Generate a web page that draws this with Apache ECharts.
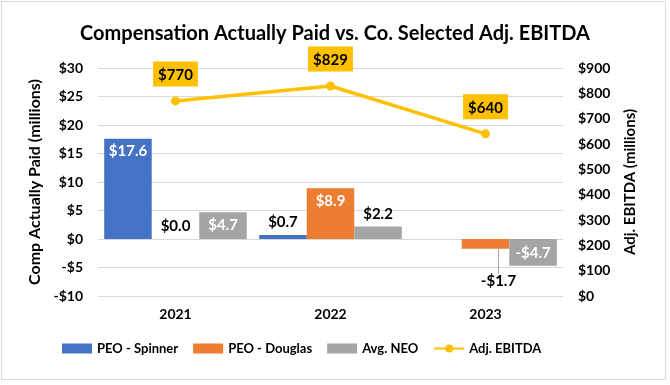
<!DOCTYPE html>
<html><head><meta charset="utf-8">
<script src="https://cdn.jsdelivr.net/npm/echarts@6/dist/echarts.min.js"></script>
<style>html,body{margin:0;padding:0;background:#fff}#c{width:670px;height:385px}</style>
</head><body><div id="c"></div>
<script>
var categories = ['2021', '2022', '2023'];
var peoSpinner = [17.6, 0.7, null];
var peoDouglas = [0.0, 8.9, -1.7];
var avgNeo = [4.7, 2.2, -4.7];
var adjEbitda = [770, 829, 640];
var leftTicks = {min: -10, max: 30, interval: 5};
var rightTicks = {min: 0, max: 900, interval: 100};

var FONT = 'Lato';
function money(v) {
  var s = Math.abs(v).toFixed(1);
  return (v < 0 ? '-$' : '$') + s;
}
function barData(arr, insideIdx, belowIdx) {
  return arr.map(function (v, i) {
    if (v === null) return {value: '-', label: {show: false}};
    var item = {value: v};
    if (insideIdx.indexOf(i) >= 0) {
      item.label = {position: v < 0 ? 'insideBottom' : 'insideTop', color: '#fff'};
    } else if (belowIdx.indexOf(i) >= 0) {
      item.label = {position: 'bottom', color: '#000'};
      item.labelLine = {show: true, lineStyle: {color: '#A6A6A6', width: 1}};
    } else {
      item.label = {position: 'top', color: '#000'};
    }
    return item;
  });
}
var barLabel = {show: true, fontFamily: FONT, fontWeight: 'bold', fontSize: 15,
  formatter: function (p) { return money(p.value); }};

var chart = echarts.init(document.getElementById('c'));
chart.setOption({
  animation: false,
  textStyle: {fontFamily: FONT},
  graphic: [{type: 'rect', shape: {x: 1.5, y: 1.5, width: 664, height: 378},
    style: {fill: 'none', stroke: '#D9D9D9', lineWidth: 1}, silent: true}],
  title: {text: 'Compensation Actually Paid vs. Co. Selected Adj. EBITDA', left: 'center', top: 19,
    textStyle: {fontFamily: FONT, fontWeight: 'bold', fontSize: 20, color: '#000'}},
  legend: {bottom: 25, left: 57, itemGap: 15, itemWidth: 30, itemHeight: 10,
    textStyle: {fontFamily: FONT, fontWeight: 'bold', fontSize: 13, color: '#000'},
    data: [{name: 'PEO - Spinner', icon: 'rect'}, {name: 'PEO - Douglas', icon: 'rect'},
      {name: 'Avg. NEO', icon: 'rect'}, {name: 'Adj. EBITDA'}]},
  grid: {left: 98, right: 107, top: 68, bottom: 89},
  xAxis: {type: 'category', data: categories,
    axisLine: {show: false}, axisTick: {show: false},
    axisLabel: {fontFamily: FONT, fontWeight: 'bold', fontSize: 14, color: '#000', margin: 11}},
  yAxis: [{type: 'value', min: leftTicks.min, max: leftTicks.max, interval: leftTicks.interval,
    name: 'Comp Actually Paid (millions)', nameLocation: 'middle', nameGap: 52, nameRotate: 90,
    nameTextStyle: {fontFamily: FONT, fontWeight: 'bold', fontSize: 16, color: '#000'},
    axisLabel: {fontFamily: FONT, fontWeight: 'bold', fontSize: 14, color: '#000', margin: 15,
      formatter: function (v) { return (v < 0 ? '-$' : '$') + Math.abs(v); }},
    splitLine: {lineStyle: {color: '#D9D9D9'}}, axisLine: {show: false}, axisTick: {show: false}},
    {type: 'value', min: rightTicks.min, max: rightTicks.max, interval: rightTicks.interval,
    name: 'Adj. EBITDA (millions)', nameLocation: 'middle', nameGap: 60, nameRotate: 90,
    nameTextStyle: {fontFamily: FONT, fontWeight: 'bold', fontSize: 15, color: '#000'},
    axisLabel: {fontFamily: FONT, fontWeight: 'bold', fontSize: 14, color: '#000', margin: 15,
      formatter: function (v) { return '$' + v; }},
    splitLine: {show: false}, axisLine: {show: false}, axisTick: {show: false}}],
  series: [
    {name: 'PEO - Spinner', type: 'bar', barGap: '0%', barCategoryGap: '8%',
      itemStyle: {color: '#4472C4'}, label: barLabel, data: barData(peoSpinner, [0], [])},
    {name: 'PEO - Douglas', type: 'bar', barGap: '0%', barCategoryGap: '8%',
      itemStyle: {color: '#ED7D31'}, label: barLabel, data: barData(peoDouglas, [1], [2]),
      labelLayout: function (p) { return p.dataIndex === 2 ? {dx: 13, dy: 20} : {}; }},
    {name: 'Avg. NEO', type: 'bar', barGap: '0%', barCategoryGap: '8%',
      itemStyle: {color: '#A5A5A5'}, label: barLabel, data: barData(avgNeo, [0, 2], [])},
    {name: 'Adj. EBITDA', type: 'line', yAxisIndex: 1, data: adjEbitda,
      symbol: 'circle', symbolSize: 9, lineStyle: {color: '#FFC000', width: 3.5},
      itemStyle: {color: '#FFC000'},
      label: {show: true, position: 'top', distance: 10, backgroundColor: '#FFC000',
        padding: [6, 5, 4, 5], color: '#000', fontFamily: FONT, fontWeight: 'bold', fontSize: 15,
        formatter: function (p) { return '$' + p.value; }}}
  ]
});
</script></body></html>
